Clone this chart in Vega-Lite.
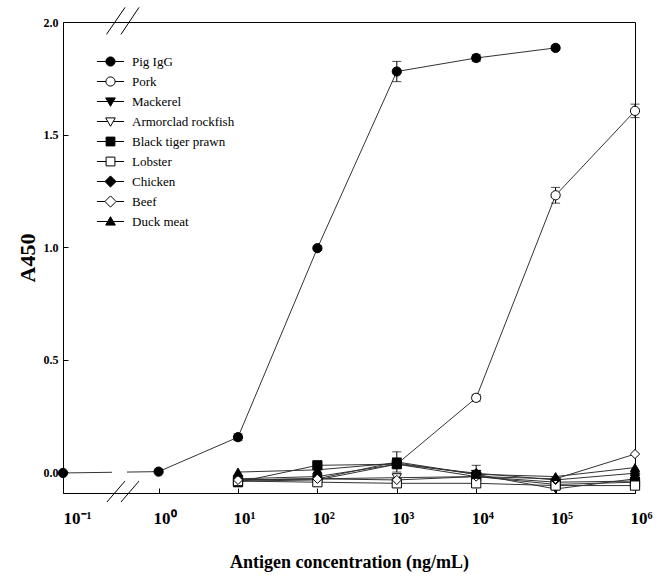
{
  "$schema": "https://vega.github.io/schema/vega-lite/v6.json",
  "width": 572,
  "height": 471,
  "autosize": {"type": "none"},
  "padding": {"left": 63, "top": 22, "right": 34, "bottom": 84},
  "background": "white",
  "config": {
    "view": {"stroke": "black", "strokeWidth": 1},
    "axis": {"grid": false, "domain": false, "tickColor": "black", "labelColor": "black", "titleColor": "black"},
    "legend": {
      "orient": "none", "legendX": 41, "legendY": 33, "padding": 0,
      "labelFont": "Liberation Serif", "labelFontSize": 13, "labelColor": "black",
      "symbolSize": 64, "labelOffset": 15, "rowPadding": 3, "labelLimit": 300,
      "gridAlign": "all",
      "symbolStrokeColor": "black", "symbolStrokeWidth": 1, "symbolOpacity": 1
    }
  },
  "resolve": {"scale": {"shape": "independent", "fill": "independent", "stroke": "independent"}},
  "datasets": {
    "main": [
      {"s": "Pig IgG", "c": 0.1, "a": -0.004, "err": 0},
      {"s": "Pig IgG", "c": 1, "a": 0.002, "err": 0},
      {"s": "Pig IgG", "c": 10, "a": 0.155, "err": 0.015},
      {"s": "Pig IgG", "c": 100, "a": 0.995, "err": 0.01},
      {"s": "Pig IgG", "c": 1000, "a": 1.78, "err": 0.045},
      {"s": "Pig IgG", "c": 10000, "a": 1.84, "err": 0.015},
      {"s": "Pig IgG", "c": 100000, "a": 1.885, "err": 0.01},
      {"s": "Pork", "c": 10, "a": -0.04, "err": 0},
      {"s": "Pork", "c": 100, "a": -0.035, "err": 0},
      {"s": "Pork", "c": 1000, "a": 0.035, "err": 0},
      {"s": "Pork", "c": 10000, "a": 0.33, "err": 0.015},
      {"s": "Pork", "c": 100000, "a": 1.23, "err": 0.035},
      {"s": "Pork", "c": 1000000, "a": 1.605, "err": 0.03},
      {"s": "Mackerel", "c": 10, "a": -0.035, "err": 0},
      {"s": "Mackerel", "c": 100, "a": -0.03, "err": 0},
      {"s": "Mackerel", "c": 1000, "a": 0.045, "err": 0.045},
      {"s": "Mackerel", "c": 10000, "a": -0.01, "err": 0.04},
      {"s": "Mackerel", "c": 100000, "a": -0.075, "err": 0},
      {"s": "Mackerel", "c": 1000000, "a": -0.03, "err": 0},
      {"s": "Armorclad rockfish", "c": 10, "a": -0.035, "err": 0},
      {"s": "Armorclad rockfish", "c": 100, "a": -0.03, "err": 0},
      {"s": "Armorclad rockfish", "c": 1000, "a": -0.025, "err": 0},
      {"s": "Armorclad rockfish", "c": 10000, "a": -0.02, "err": 0},
      {"s": "Armorclad rockfish", "c": 100000, "a": -0.045, "err": 0},
      {"s": "Armorclad rockfish", "c": 1000000, "a": -0.04, "err": 0},
      {"s": "Black tiger prawn", "c": 10, "a": -0.045, "err": 0},
      {"s": "Black tiger prawn", "c": 100, "a": 0.03, "err": 0.01},
      {"s": "Black tiger prawn", "c": 1000, "a": 0.035, "err": 0},
      {"s": "Black tiger prawn", "c": 10000, "a": -0.02, "err": 0},
      {"s": "Black tiger prawn", "c": 100000, "a": -0.055, "err": 0},
      {"s": "Black tiger prawn", "c": 1000000, "a": -0.045, "err": 0},
      {"s": "Lobster", "c": 10, "a": -0.04, "err": 0},
      {"s": "Lobster", "c": 100, "a": -0.045, "err": 0},
      {"s": "Lobster", "c": 1000, "a": -0.05, "err": 0},
      {"s": "Lobster", "c": 10000, "a": -0.05, "err": 0},
      {"s": "Lobster", "c": 100000, "a": -0.06, "err": 0},
      {"s": "Lobster", "c": 1000000, "a": -0.06, "err": 0},
      {"s": "Chicken", "c": 10, "a": -0.03, "err": 0},
      {"s": "Chicken", "c": 100, "a": -0.02, "err": 0},
      {"s": "Chicken", "c": 1000, "a": 0.035, "err": 0},
      {"s": "Chicken", "c": 10000, "a": -0.005, "err": 0},
      {"s": "Chicken", "c": 100000, "a": -0.035, "err": 0},
      {"s": "Chicken", "c": 1000000, "a": -0.005, "err": 0},
      {"s": "Beef", "c": 10, "a": -0.035, "err": 0},
      {"s": "Beef", "c": 100, "a": -0.03, "err": 0},
      {"s": "Beef", "c": 1000, "a": -0.035, "err": 0},
      {"s": "Beef", "c": 10000, "a": -0.02, "err": 0},
      {"s": "Beef", "c": 100000, "a": -0.03, "err": 0},
      {"s": "Beef", "c": 1000000, "a": 0.08, "err": 0},
      {"s": "Duck meat", "c": 10, "a": 0.0, "err": 0},
      {"s": "Duck meat", "c": 100, "a": 0.01, "err": 0},
      {"s": "Duck meat", "c": 1000, "a": 0.04, "err": 0},
      {"s": "Duck meat", "c": 10000, "a": -0.01, "err": 0},
      {"s": "Duck meat", "c": 100000, "a": -0.02, "err": 0},
      {"s": "Duck meat", "c": 1000000, "a": 0.02, "err": 0}
    ],
    "breaks": [
      {"x1": 0.288, "x2": 0.446, "y1": -0.133, "y2": -0.04},
      {"x1": 0.404, "x2": 0.624, "y1": -0.133, "y2": -0.04},
      {"x1": 0.285, "x2": 0.446, "y1": 1.945, "y2": 2.065},
      {"x1": 0.404, "x2": 0.624, "y1": 1.945, "y2": 2.065}
    ],
    "gap": [
      {"x1": 0.326, "x2": 0.467, "y1": -0.001, "y2": -0.001}
    ]
  },
  "layer": [
    {
      "data": {"name": "main"},
      "mark": {"type": "line", "stroke": "#333333", "strokeWidth": 1},
      "encoding": {
        "x": {"field": "c", "type": "quantitative", "title": "Antigen concentration (ng/mL)",
              "scale": {"type": "log", "domain": [0.1, 1, 1000000], "range": [0, 95.6, 572], "nice": false},
              "axis": {
                "values": [0.1, 1, 10, 100, 1000, 10000, 100000, 1000000],
                "labelExpr": "'10' + ['⁻¹','⁰','¹','²','³','⁴','⁵','⁶'][round(log(datum.value)/LN10)+1]",
                "tickSize": -5, "labelPadding": 22,
                "labelFont": "Liberation Serif", "labelFontWeight": "bold", "labelFontSize": 17,
                "labelAlign": {"condition": {"test": "datum.value < 0.5", "value": "left"}, "value": "center"},
                "labelOffset": {"condition": {"test": "datum.value < 0.5", "value": 0}, "value": 6},
                "labelFlush": false, "labelOverlap": false,
                "titleFont": "Liberation Serif", "titleFontSize": 18, "titleFontWeight": "bold", "titlePadding": 27
              }},
        "y": {"field": "a", "type": "quantitative", "title": "A450",
              "scale": {"domain": [-0.093, 2.0], "nice": false, "zero": false},
              "axis": {
                "values": [0, 0.5, 1, 1.5, 2], "format": ".1f",
                "tickSize": -5, "labelPadding": 10,
                "labelFont": "Liberation Serif", "labelFontWeight": "bold", "labelFontSize": 12,
                "titleFont": "Liberation Serif", "titleFontSize": 22, "titleFontWeight": "bold", "titlePadding": 4
              }},
        "detail": {"field": "s", "type": "nominal"}
      }
    },
    {
      "data": {"name": "gap"},
      "mark": {"type": "rule", "stroke": "white", "strokeWidth": 4},
      "encoding": {
        "x": {"field": "x1", "type": "quantitative", "title": "Antigen concentration (ng/mL)",
              "scale": {"type": "log", "domain": [0.1, 1, 1000000], "range": [0, 95.6, 572], "nice": false}},
        "x2": {"field": "x2"},
        "y": {"field": "y1", "type": "quantitative", "title": "A450",
              "scale": {"domain": [-0.093, 2.0], "nice": false, "zero": false}},
        "y2": {"field": "y2"}
      }
    },
    {
      "data": {"name": "breaks"},
      "mark": {"type": "rule", "stroke": "black", "strokeWidth": 1},
      "encoding": {
        "x": {"field": "x1", "type": "quantitative", "title": "Antigen concentration (ng/mL)",
              "scale": {"type": "log", "domain": [0.1, 1, 1000000], "range": [0, 95.6, 572], "nice": false}},
        "x2": {"field": "x2"},
        "y": {"field": "y1", "type": "quantitative", "title": "A450",
              "scale": {"domain": [-0.093, 2.0], "nice": false, "zero": false}},
        "y2": {"field": "y2"}
      }
    },
    {
      "data": {"name": "main"},
      "transform": [{"filter": "datum.err > 0"}],
      "mark": {"type": "errorbar", "color": "black", "thickness": 1, "ticks": {"size": 9, "color": "black"}},
      "encoding": {
        "x": {"field": "c", "type": "quantitative", "title": "Antigen concentration (ng/mL)",
              "scale": {"type": "log", "domain": [0.1, 1, 1000000], "range": [0, 95.6, 572], "nice": false}},
        "y": {"field": "a", "type": "quantitative", "title": "A450",
              "scale": {"domain": [-0.093, 2.0], "nice": false, "zero": false}},
        "yError": {"field": "err"}
      }
    },
    {
      "data": {"name": "main"},
      "mark": {"type": "point", "filled": true, "stroke": "black", "strokeWidth": 1, "opacity": 1, "size": 85},
      "encoding": {
        "x": {"field": "c", "type": "quantitative", "title": "Antigen concentration (ng/mL)",
              "scale": {"type": "log", "domain": [0.1, 1, 1000000], "range": [0, 95.6, 572], "nice": false}},
        "y": {"field": "a", "type": "quantitative", "title": "A450",
              "scale": {"domain": [-0.093, 2.0], "nice": false, "zero": false}},
        "shape": {"field": "s", "type": "nominal",
          "scale": {"domain": ["Pig IgG", "Pork", "Mackerel", "Armorclad rockfish", "Black tiger prawn", "Lobster", "Chicken", "Beef", "Duck meat"],
                    "range": ["circle", "circle", "triangle-down", "triangle-down", "square", "square", "diamond", "diamond", "triangle-up"]},
          "legend": null},
        "fill": {"field": "s", "type": "nominal",
          "scale": {"domain": ["Pig IgG", "Pork", "Mackerel", "Armorclad rockfish", "Black tiger prawn", "Lobster", "Chicken", "Beef", "Duck meat"],
                    "range": ["black", "white", "black", "white", "black", "white", "black", "white", "black"]},
          "legend": null}
      }
    },
    {
      "data": {"name": "main"},
      "transform": [{"filter": "datum.c < 0"}],
      "mark": {"type": "point", "filled": true, "strokeWidth": 1, "opacity": 1},
      "encoding": {
        "x": {"field": "c", "type": "quantitative", "title": "Antigen concentration (ng/mL)",
              "scale": {"type": "log", "domain": [0.1, 1, 1000000], "range": [0, 95.6, 572], "nice": false}},
        "y": {"field": "a", "type": "quantitative", "title": "A450",
              "scale": {"domain": [-0.093, 2.0], "nice": false, "zero": false}},
        "shape": {"field": "s", "type": "nominal",
          "scale": {"domain": ["Pig IgG", "Pork", "Mackerel", "Armorclad rockfish", "Black tiger prawn", "Lobster", "Chicken", "Beef", "Duck meat"],
                    "range": [
                      "M-3.4,0H-1.15M1.15,0H3.4M-1.15,0A1.15,1.15,0,1,1,1.15,0A1.15,1.15,0,1,1,-1.15,0Z",
                      "M-3.4,0H-1.15M1.15,0H3.4M-1.15,0A1.15,1.15,0,1,1,1.15,0A1.15,1.15,0,1,1,-1.15,0Z",
                      "M-3.4,0H-0.69M0.69,0H3.4M-1.2,-0.9L1.2,-0.9L0,1.2Z",
                      "M-3.4,0H-0.69M0.69,0H3.4M-1.2,-0.9L1.2,-0.9L0,1.2Z",
                      "M-3.4,0H-1.1M1.1,0H3.4M-1.1,-1.1H1.1V1.1H-1.1Z",
                      "M-3.4,0H-1.1M1.1,0H3.4M-1.1,-1.1H1.1V1.1H-1.1Z",
                      "M-3.4,0H-1.4M1.4,0H3.4M0,-1.4L1.4,0L0,1.4L-1.4,0Z",
                      "M-3.4,0H-1.4M1.4,0H3.4M0,-1.4L1.4,0L0,1.4L-1.4,0Z",
                      "M-3.4,0H-0.69M0.69,0H3.4M0,-1.2L1.2,0.9L-1.2,0.9Z"
                    ]},
          "legend": {"title": null}},
        "fill": {"field": "s", "type": "nominal",
          "scale": {"domain": ["Pig IgG", "Pork", "Mackerel", "Armorclad rockfish", "Black tiger prawn", "Lobster", "Chicken", "Beef", "Duck meat"],
                    "range": ["black", "white", "black", "white", "black", "white", "black", "white", "black"]},
          "legend": {"title": null}},
        "stroke": {"field": "s", "type": "nominal",
          "scale": {"domain": ["Pig IgG", "Pork", "Mackerel", "Armorclad rockfish", "Black tiger prawn", "Lobster", "Chicken", "Beef", "Duck meat"],
                    "range": ["black", "black", "black", "black", "black", "black", "black", "black", "black"]},
          "legend": {"title": null}}
      }
    }
  ]
}
